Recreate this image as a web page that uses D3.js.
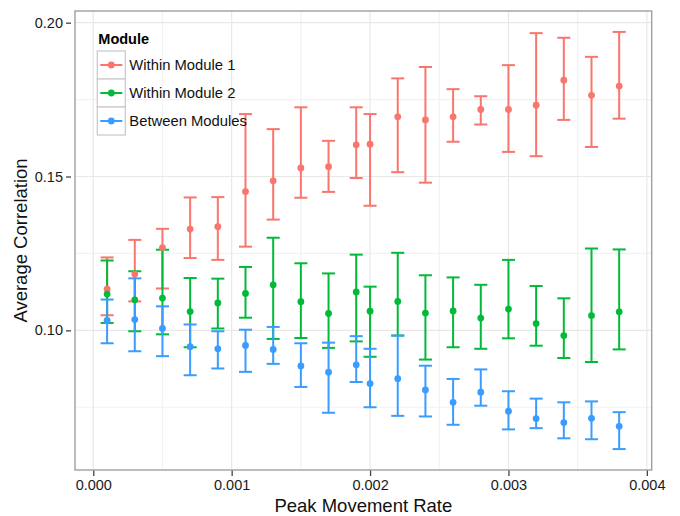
<!DOCTYPE html>
<html>
<head>
<meta charset="utf-8">
<script src="https://cdn.jsdelivr.net/npm/d3@7"></script>
<style>
  body { margin: 0; background: #fff; }
  text { font-family: "Liberation Sans", Arial, Helvetica, sans-serif; }
</style>
</head>
<body>
<div id="my_dataviz"></div>
<script>
// Peak movement rate (x) for every group of points
var rates = [0.0001, 0.0003, 0.0005, 0.0007, 0.0009, 0.0011, 0.0013, 0.0015, 0.0017, 0.0019,
             0.0020, 0.0022, 0.0024, 0.0026, 0.0028, 0.0030, 0.0032, 0.0034, 0.0036, 0.0038];

var modules = ["Within Module 1", "Within Module 2", "Between Modules"];

// Within Module 1
var m1Mean = [0.1134, 0.1183, 0.1269, 0.1329, 0.1337, 0.1451, 0.1486, 0.1528, 0.1532, 0.1603,
              0.1605, 0.1694, 0.1684, 0.1694, 0.1718, 0.1718, 0.1732, 0.1813, 0.1764, 0.1794];
var m1Low  = [0.1049, 0.1094, 0.1136, 0.1235, 0.1229, 0.1272, 0.1360, 0.1431, 0.1450, 0.1495,
              0.1405, 0.1514, 0.1480, 0.1613, 0.1669, 0.1580, 0.1566, 0.1684, 0.1596, 0.1688];
var m1High = [0.1237, 0.1294, 0.1330, 0.1432, 0.1433, 0.1703, 0.1654, 0.1725, 0.1616, 0.1725,
              0.1703, 0.1819, 0.1856, 0.1784, 0.1761, 0.1862, 0.1966, 0.1951, 0.1889, 0.1970];

// Within Module 2
var m2Mean = [0.1118, 0.1099, 0.1105, 0.1061, 0.1089, 0.1120, 0.1148, 0.1093, 0.1055, 0.1125,
              0.1062, 0.1094, 0.1056, 0.1063, 0.1040, 0.1069, 0.1022, 0.0983, 0.1048, 0.1060];
var m2Low  = [0.1024, 0.0997, 0.0987, 0.0945, 0.1006, 0.1041, 0.0972, 0.0975, 0.0943, 0.0964,
              0.0914, 0.0983, 0.0905, 0.0945, 0.0940, 0.0974, 0.0950, 0.0910, 0.0897, 0.0938];
var m2High = [0.1227, 0.1192, 0.1262, 0.1170, 0.1168, 0.1206, 0.1301, 0.1218, 0.1185, 0.1246,
              0.1142, 0.1252, 0.1179, 0.1172, 0.1148, 0.1229, 0.1144, 0.1104, 0.1266, 0.1263];

// Between Modules
var btMean = [0.1032, 0.1035, 0.1006, 0.0947, 0.0940, 0.0951, 0.0938, 0.0884, 0.0864, 0.0888,
              0.0827, 0.0843, 0.0806, 0.0766, 0.0799, 0.0737, 0.0713, 0.0700, 0.0714, 0.0688];
var btLow  = [0.0958, 0.0932, 0.0916, 0.0854, 0.0876, 0.0865, 0.0891, 0.0816, 0.0732, 0.0832,
              0.0750, 0.0722, 0.0720, 0.0693, 0.0755, 0.0678, 0.0682, 0.0649, 0.0646, 0.0614];
var btHigh = [0.1100, 0.1169, 0.1078, 0.1019, 0.0997, 0.1002, 0.1011, 0.0958, 0.0960, 0.0981,
              0.0940, 0.0983, 0.0885, 0.0842, 0.0873, 0.0802, 0.0778, 0.0766, 0.0769, 0.0734];

var xTicks = [0, 0.001, 0.002, 0.003, 0.004];
var yTicks = [0.10, 0.15, 0.20];

var colors = ["#F8766D", "#00BA38", "#3A9CFF"];

// build one row per point
var series = [[m1Mean, m1Low, m1High], [m2Mean, m2Low, m2High], [btMean, btLow, btHigh]];
var rows = [];
series.forEach(function(s, g) {
    rates.forEach(function(r, i) {
        rows.push({g: g, x: r, y: s[0][i], lo: s[1][i], hi: s[2][i]});
    });
});

// set the dimensions and margins of the graph
var W = 680, H = 516;
var margin = {top: 11, right: 28.3, bottom: 46, left: 75},
    width = W - margin.left - margin.right,
    height = H - margin.top - margin.bottom;

var svg = d3.select("#my_dataviz")
  .append("svg")
    .attr("width", W)
    .attr("height", H)
  .append("g")
    .attr("transform", "translate(" + margin.left + "," + margin.top + ")");

var x = d3.scaleLinear()
    .domain([-0.000132, 0.004035])
    .range([0, width]);

var y = d3.scaleLinear()
    .domain([0.0546, 0.2038])
    .range([height, 0]);

// grid lines (minor first, then major)
var xMinor = [0.0005, 0.0015, 0.0025, 0.0035];
var yMinor = [0.075, 0.125, 0.175];

svg.selectAll(".xminor").data(xMinor).enter().append("line")
    .attr("x1", d => x(d)).attr("x2", d => x(d))
    .attr("y1", 0).attr("y2", height)
    .style("stroke", "#f2f2f2").style("stroke-width", 1.2);
svg.selectAll(".yminor").data(yMinor).enter().append("line")
    .attr("y1", d => y(d)).attr("y2", d => y(d))
    .attr("x1", 0).attr("x2", width)
    .style("stroke", "#f2f2f2").style("stroke-width", 1.2);
svg.selectAll(".xmajor").data(xTicks).enter().append("line")
    .attr("x1", d => x(d)).attr("x2", d => x(d))
    .attr("y1", 0).attr("y2", height)
    .style("stroke", "#e8e8e8").style("stroke-width", 1.2);
svg.selectAll(".ymajor").data(yTicks).enter().append("line")
    .attr("y1", d => y(d)).attr("y2", d => y(d))
    .attr("x1", 0).attr("x2", width)
    .style("stroke", "#e8e8e8").style("stroke-width", 1.2);

// Add X axis
var xAxis = svg.append("g")
    .attr("transform", "translate(0," + height + ")")
    .call(d3.axisBottom(x).tickValues(xTicks).tickFormat(d3.format(".3f")).tickSizeOuter(0).tickSize(6).tickPadding(4));

// Add Y axis
var yAxis = svg.append("g")
    .call(d3.axisLeft(y).tickValues(yTicks).tickFormat(d3.format(".2f")).tickSizeOuter(0).tickSize(9).tickPadding(3));

[xAxis, yAxis].forEach(function(a) {
    a.select(".domain").remove();
    a.selectAll("line").style("stroke", "#444").style("stroke-width", 1.3);
    a.selectAll("text").style("font-size", "14.5px").style("fill", "#1a1a1a")
        .style("font-family", "'Liberation Sans', Arial, sans-serif");
});
yAxis.selectAll("line").attr("x1", -9).attr("x2", -4);

// panel border
svg.append("rect")
    .attr("x", 0).attr("y", 0)
    .attr("width", width).attr("height", height)
    .style("fill", "none")
    .style("stroke", "#a0a0a0")
    .style("stroke-width", 1.4);

// error bars
var capHalf = (x(0.00008) - x(0)) / 2 + 1;
var bars = svg.append("g").selectAll("g").data(rows).enter().append("g")
    .style("stroke", d => colors[d.g])
    .style("stroke-width", 2);
bars.append("line")
    .attr("x1", d => x(d.x)).attr("x2", d => x(d.x))
    .attr("y1", d => y(d.lo)).attr("y2", d => y(d.hi));
bars.append("line")
    .attr("x1", d => x(d.x) - capHalf).attr("x2", d => x(d.x) + capHalf)
    .attr("y1", d => y(d.hi)).attr("y2", d => y(d.hi));
bars.append("line")
    .attr("x1", d => x(d.x) - capHalf).attr("x2", d => x(d.x) + capHalf)
    .attr("y1", d => y(d.lo)).attr("y2", d => y(d.lo));

// dots
svg.append("g").selectAll("circle").data(rows).enter().append("circle")
    .attr("cx", d => x(d.x))
    .attr("cy", d => y(d.y))
    .attr("r", 3.4)
    .style("fill", d => colors[d.g]);

// legend
var legend = svg.append("g").attr("transform", "translate(22.3,0)");
legend.append("text")
    .attr("x", 1).attr("y", 32.5)
    .style("font-size", "14.5px")
    .style("font-weight", "bold")
    .style("fill", "#000")
    .text("Module");

var keys = legend.selectAll(".key").data(modules).enter().append("g")
    .attr("transform", (d, i) => "translate(0," + (40 + i * 28) + ")");
keys.append("rect")
    .attr("width", 28).attr("height", 28)
    .style("fill", "#fff")
    .style("stroke", "#cccccc")
    .style("stroke-width", 1.3);
keys.append("line")
    .attr("x1", 3).attr("x2", 25)
    .attr("y1", 14).attr("y2", 14)
    .style("stroke", (d, i) => colors[i])
    .style("stroke-width", 2);
keys.append("circle")
    .attr("cx", 14).attr("cy", 14).attr("r", 3.4)
    .style("fill", (d, i) => colors[i]);
keys.append("text")
    .attr("x", 32).attr("y", 19.2)
    .style("font-size", "14.8px")
    .style("fill", "#111")
    .text(d => d);

// axis titles
svg.append("text")
    .attr("x", width / 2)
    .attr("y", height + 42)
    .style("text-anchor", "middle")
    .style("font-size", "18.5px")
    .style("fill", "#111")
    .text("Peak Movement Rate");

svg.append("text")
    .attr("transform", "rotate(-90)")
    .attr("x", -height / 2)
    .attr("y", -48)
    .style("text-anchor", "middle")
    .style("font-size", "18.5px")
    .style("fill", "#111")
    .text("Average Correlation");
</script>
</body>
</html>
